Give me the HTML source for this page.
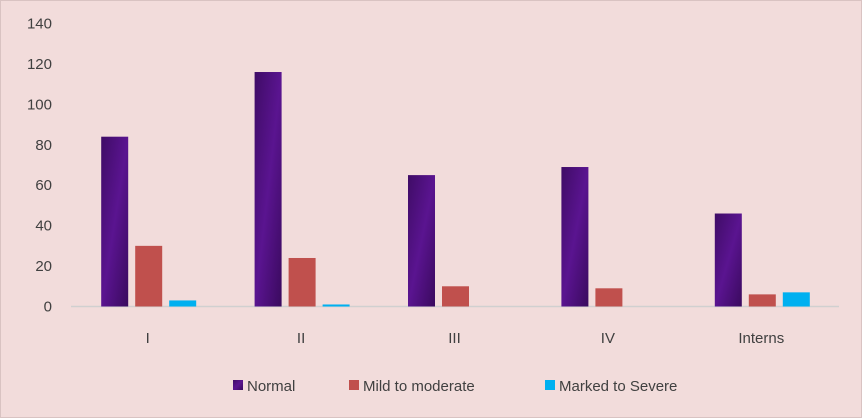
<!DOCTYPE html>
<html><head><meta charset="utf-8"><style>
body{margin:0;background:#f2dcdb;}
svg{display:block;font-family:"Liberation Sans",sans-serif;}
</style></head><body>
<svg id="chart" width="862" height="418" viewBox="0 0 862 418">
<defs>
<linearGradient id="purp" x1="0" y1="0" x2="1" y2="1">
<stop offset="0" stop-color="#3f0c66"/><stop offset="0.5" stop-color="#5a1490"/><stop offset="1" stop-color="#3a0a5e"/>
</linearGradient>
</defs>
<rect x="0.5" y="0.5" width="861" height="417" fill="#f2dcdb" stroke="#d9c3c2"/>
<g id="grid"></g>
<g id="bars"></g>
<g id="labels"></g>
<g id="legend"></g>
</svg>
<script>
const categories = ["I","II","III","IV","Interns"];
const normal = [84,116,65,69,46];
const mild = [30,24,10,9,6];
const marked = [3,1,0,0,7];
const yTicks = [0,20,40,60,80,100,120,140];
const seriesNames = ["Normal","Mild to moderate","Marked to Severe"];
const NS="http://www.w3.org/2000/svg";
const y0=306.5, yTop=23.5, yMax=140;
function yScale(v){return y0-(v/yMax)*(y0-yTop);}
const x0=72, step=153.4;
function xCenter(i){return x0+step*(i+0.5);}
function mk(tag,attrs,parent){const e=document.createElementNS(NS,tag);for(const k in attrs)e.setAttribute(k,attrs[k]);parent.appendChild(e);return e;}
const labels=document.getElementById('labels');
yTicks.forEach(t=>{
  const tx=mk('text',{x:52,y:yScale(t)+5,'text-anchor':'end','font-size':15,fill:'#404040'},labels);
  
  
  tx.textContent=t;
});
const axis=mk('line',{x1:x0-1,x2:x0+step*5,y1:y0,y2:y0,stroke:'#d0d0d0','stroke-width':1.5},document.getElementById('grid'));


const series=[normal,mild,marked];
const fills=['url(#purp)','#c0504d','#00b0f0'];
const bars=document.getElementById('bars');
categories.forEach((c,i)=>{
  series.forEach((s,j)=>{
    const cx=xCenter(i)+(j-1)*34;
    const r=mk('rect',{x:cx-13.5,y:yScale(s[i]),width:27,height:y0-yScale(s[i]),fill:fills[j]},bars);
    
    
  });
  const tx=mk('text',{x:xCenter(i)-1,y:343,'text-anchor':'middle','font-size':15,fill:'#404040'},labels);
  
  
  tx.textContent=c;
});
const legend=document.getElementById('legend');
const lx=[233,349,545];
seriesNames.forEach((n,j)=>{
  const g=mk('g',{},legend);
  
  
  mk('rect',{x:lx[j],y:380,width:10,height:10,fill:fills[j]},g);
  const t=mk('text',{x:lx[j]+14,y:391,'font-size':15,fill:'#404040'},g);
  t.textContent=n;
});
</script>
</body></html>
